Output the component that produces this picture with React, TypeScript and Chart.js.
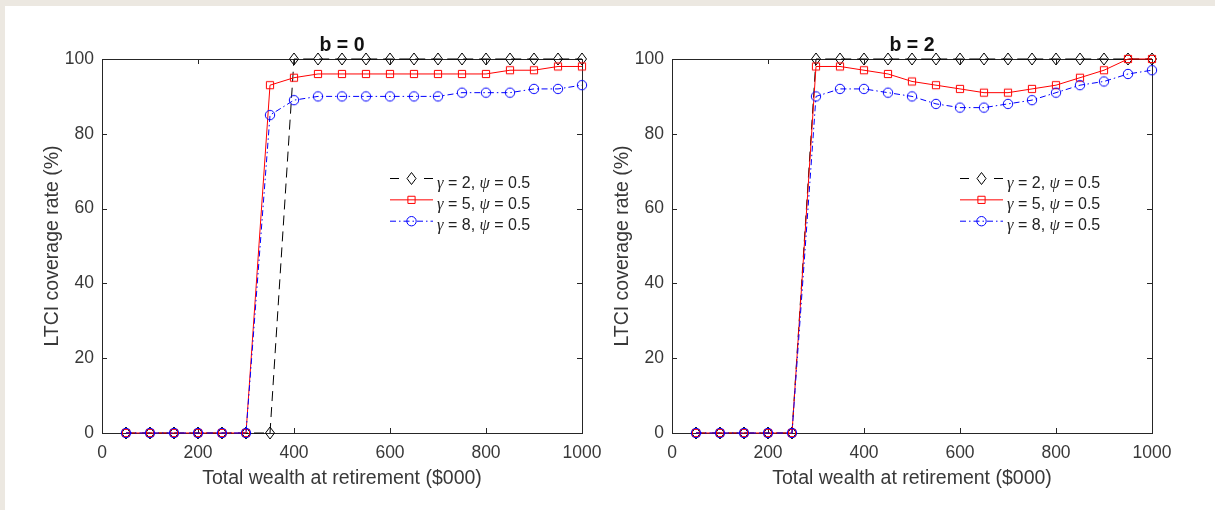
import React, { useEffect, useRef } from 'react';
import { Chart, registerables } from 'chart.js';

Chart.register(...registerables);

// Total wealth at retirement, $000
const wealth = [50, 100, 150, 200, 250, 300, 350, 400, 450, 500, 550, 600, 650, 700, 750, 800, 850, 900, 950, 1000];
const xTickValues = [0, 200, 400, 600, 800, 1000];
const yTickValues = [0, 20, 40, 60, 80, 100];

// LTCI coverage rate (%), bequest parameter b = 0
const b0Gamma2 = [0, 0, 0, 0, 0, 0, 0, 100, 100, 100, 100, 100, 100, 100, 100, 100, 100, 100, 100, 100];
const b0Gamma5 = [0, 0, 0, 0, 0, 0, 93, 95, 96, 96, 96, 96, 96, 96, 96, 96, 97, 97, 98, 98];
const b0Gamma8 = [0, 0, 0, 0, 0, 0, 85, 89, 90, 90, 90, 90, 90, 90, 91, 91, 91, 92, 92, 93];

// LTCI coverage rate (%), bequest parameter b = 2
const b2Gamma2 = [0, 0, 0, 0, 0, 100, 100, 100, 100, 100, 100, 100, 100, 100, 100, 100, 100, 100, 100, 100];
const b2Gamma5 = [0, 0, 0, 0, 0, 98, 98, 97, 96, 94, 93, 92, 91, 91, 92, 93, 95, 97, 100, 100];
const b2Gamma8 = [0, 0, 0, 0, 0, 90, 92, 92, 91, 90, 88, 87, 87, 88, 89, 91, 93, 94, 96, 97];

const gammaLabels = ['2', '5', '8'];
const psiLabel = '0.5';
const panelTitles = ['b = 0', 'b = 2'];
const xAxisTitle = 'Total wealth at retirement ($000)';
const yAxisTitle = 'LTCI coverage rate (%)';

const SANS = '"Liberation Sans", Arial, Helvetica, sans-serif';
const SERIF = '"Liberation Serif", "Times New Roman", serif';
const AXIS_COLOR = '#262626';
const TEXT_COLOR = '#383838';

type MarkerKind = 'diamond' | 'square' | 'circle';

const SERIES_STYLE: { color: string; dash: number[]; legendDash: number[]; marker: MarkerKind }[] = [
  { color: '#000000', dash: [10, 6], legendDash: [9, 25], marker: 'diamond' },
  { color: '#ff0000', dash: [], legendDash: [], marker: 'square' },
  { color: '#0000ff', dash: [6, 3, 1.5, 3], legendDash: [6, 3, 1.5, 3], marker: 'circle' },
];

// Hollow marker outline, shared by the plotted points and the legend
function traceMarker(ctx: CanvasRenderingContext2D, kind: MarkerKind, x: number, y: number) {
  ctx.beginPath();
  if (kind === 'diamond') {
    ctx.moveTo(x, y - 6);
    ctx.lineTo(x + 4.5, y);
    ctx.lineTo(x, y + 6);
    ctx.lineTo(x - 4.5, y);
    ctx.closePath();
  } else if (kind === 'square') {
    ctx.rect(x - 3.6, y - 3.6, 7.2, 7.2);
  } else {
    ctx.arc(x, y, 4.7, 0, Math.PI * 2);
  }
}

function markerImage(kind: MarkerKind, color: string): HTMLCanvasElement {
  const c = document.createElement('canvas');
  c.width = 16;
  c.height = 16;
  const g = c.getContext('2d')!;
  g.strokeStyle = color;
  g.lineWidth = 1;
  traceMarker(g, kind, 8, 8);
  g.stroke();
  return c;
}

function makeFramePlugin(title: string) {
  return {
    id: 'matlabFrame',
    beforeDatasetsDraw(chart: any) {
      const { ctx, chartArea } = chart;
      const { left, right, top, bottom } = chartArea;
      const xs = chart.scales.x;
      const ys = chart.scales.y;
      ctx.save();
      ctx.strokeStyle = AXIS_COLOR;
      ctx.lineWidth = 1;
      ctx.strokeRect(Math.round(left) + 0.5, Math.round(top) + 0.5, Math.round(right - left), Math.round(bottom - top));
      const tick = 5;
      ctx.beginPath();
      xTickValues.forEach((v) => {
        const px = Math.round(xs.getPixelForValue(v)) + 0.5;
        ctx.moveTo(px, bottom);
        ctx.lineTo(px, bottom - tick);
        ctx.moveTo(px, top);
        ctx.lineTo(px, top + tick);
      });
      yTickValues.forEach((v) => {
        const py = Math.round(ys.getPixelForValue(v)) + 0.5;
        ctx.moveTo(left, py);
        ctx.lineTo(left + tick, py);
        ctx.moveTo(right, py);
        ctx.lineTo(right - tick, py);
      });
      ctx.stroke();
      ctx.restore();
    },
    afterDraw(chart: any) {
      const { ctx, chartArea } = chart;
      const { left, right, top } = chartArea;
      ctx.save();
      // panel title
      ctx.fillStyle = '#111111';
      ctx.font = `bold 19.5px ${SANS}`;
      ctx.textAlign = 'center';
      ctx.textBaseline = 'alphabetic';
      ctx.fillText(title, (left + right) / 2, 50.7);

      // legend
      ctx.textAlign = 'left';
      SERIES_STYLE.forEach((s, i) => {
        const y = top + 119.5 + i * 21.35;
        const x0 = right - 192;
        const x1 = right - 149;
        ctx.strokeStyle = s.color;
        ctx.lineWidth = 1;
        ctx.setLineDash(s.legendDash);
        ctx.beginPath();
        ctx.moveTo(x0, y);
        ctx.lineTo(x1, y);
        ctx.stroke();
        ctx.setLineDash([]);
        traceMarker(ctx, s.marker, (x0 + x1) / 2, y);
        ctx.stroke();

        const parts: [string, boolean][] = [
          ['γ', true],
          [` = ${gammaLabels[i]}, `, false],
          ['ψ', true],
          [` = ${psiLabel}`, false],
        ];
        let tx = right - 145;
        const base = y + 9;
        ctx.fillStyle = '#222222';
        parts.forEach(([t, greek]) => {
          ctx.font = greek ? `italic 16.5px ${SERIF}` : `16px ${SANS}`;
          ctx.fillText(t, tx, base);
          tx += ctx.measureText(t).width;
        });
      });
      ctx.restore();
    },
  };
}

const CANVAS_W = 607;
const CANVAS_H = 510;

function Panel({ title, series, left }: { title: string; series: number[][]; left: number }) {
  const ref = useRef<HTMLCanvasElement>(null);

  useEffect(() => {
    const canvas = ref.current;
    if (!canvas) return;
    const images = SERIES_STYLE.map((s) => markerImage(s.marker, s.color));
    const chart = new Chart(canvas, {
      type: 'line',
      data: {
        datasets: series.map((vals, i) => ({
          label: `γ = ${gammaLabels[i]}, ψ = ${psiLabel}`,
          data: wealth.map((w, k) => ({ x: w, y: vals[k] })),
          borderColor: SERIES_STYLE[i].color,
          borderWidth: 1,
          borderDash: SERIES_STYLE[i].dash,
          pointStyle: images[i],
          pointRadius: 5,
          pointHoverRadius: 5,
          tension: 0,
          fill: false,
          clip: false,
          order: 3 - i,
        })),
      },
      options: {
        animation: false,
        responsive: false,
        maintainAspectRatio: false,
        devicePixelRatio: 1,
        events: [],
        layout: { padding: { left: 0, top: 59, right: CANVAS_W - 582, bottom: 0 } },
        plugins: {
          legend: { display: false },
          tooltip: { enabled: false },
          title: { display: false },
        },
        scales: {
          x: {
            type: 'linear',
            min: 0,
            max: 1000,
            grid: { display: false, drawTicks: false },
            border: { display: false },
            afterBuildTicks: (s: any) => {
              s.ticks = xTickValues.map((value) => ({ value }));
            },
            afterFit: (s: any) => {
              s.height = 77;
              s.paddingLeft = 0;
              s.paddingRight = 0;
            },
            ticks: {
              autoSkip: false,
              maxRotation: 0,
              padding: 9.4,
              color: TEXT_COLOR,
              font: { family: SANS, size: 17.5 },
              callback: (v: number | string) => String(v),
            },
            title: {
              display: true,
              text: xAxisTitle,
              color: TEXT_COLOR,
              font: { family: SANS, size: 19.5 },
              padding: { top: 0, bottom: 20.1 },
            },
          },
          y: {
            type: 'linear',
            min: 0,
            max: 100,
            grid: { display: false, drawTicks: false },
            border: { display: false },
            afterBuildTicks: (s: any) => {
              s.ticks = yTickValues.map((value) => ({ value }));
            },
            afterFit: (s: any) => {
              s.width = 102;
              s.paddingTop = 0;
              s.paddingBottom = 0;
            },
            ticks: {
              autoSkip: false,
              padding: 8,
              color: TEXT_COLOR,
              font: { family: SANS, size: 17.5 },
              callback: (v: number | string) => String(v),
            },
            title: {
              display: true,
              text: yAxisTitle,
              color: TEXT_COLOR,
              font: { family: SANS, size: 19.5 },
              padding: { top: 40.5, bottom: 0 },
            },
          },
        },
      } as any,
      plugins: [makeFramePlugin(title)],
    });
    return () => chart.destroy();
  }, [title, series]);

  return (
    <canvas
      ref={ref}
      width={CANVAS_W}
      height={CANVAS_H}
      style={{ position: 'absolute', left, top: 0, width: CANVAS_W, height: CANVAS_H }}
    />
  );
}

const panelSeries = [
  [b0Gamma2, b0Gamma5, b0Gamma8],
  [b2Gamma2, b2Gamma5, b2Gamma8],
];

export default function App() {
  return (
    <div
      style={{
        position: 'absolute',
        left: 0,
        top: 0,
        width: 1215,
        height: 510,
        background: '#ece8e1',
        overflow: 'hidden',
      }}
    >
      <div style={{ position: 'absolute', left: 5, top: 6, right: 0, bottom: 0, background: '#ffffff' }} />
      <Panel title={panelTitles[0]} series={panelSeries[0]} left={0} />
      <Panel title={panelTitles[1]} series={panelSeries[1]} left={570} />
    </div>
  );
}
